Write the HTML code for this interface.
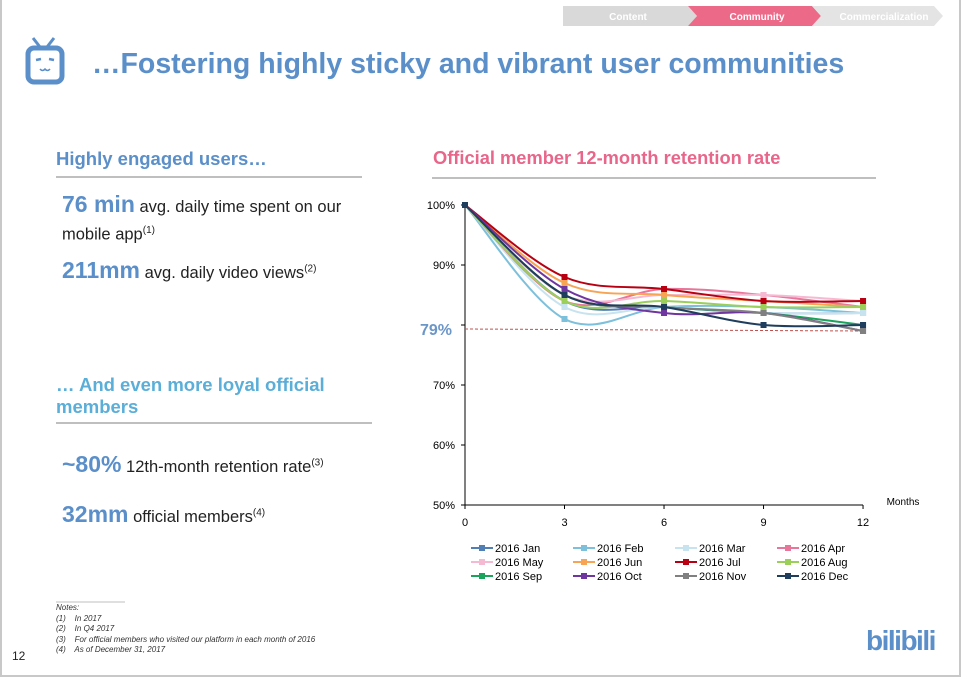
<!DOCTYPE html>
<html><head><meta charset="utf-8">
<style>
body{margin:0;width:961px;height:679px;background:#fff;font-family:"Liberation Sans",sans-serif;position:relative;overflow:hidden}
.frame{position:absolute;left:0;top:0;width:957px;height:675px;border:2px solid #c8c8c8;border-top:none}
.abs{position:absolute;white-space:nowrap}
.blue{color:#5b8fc9}
</style></head><body>
<div class="frame"></div>
<svg class="abs" style="left:0;top:0" width="961" height="679">
<polygon points="563,6 688,6 697,16 688,26 563,26" fill="#d9d9d9"/>
<polygon points="688,6 812,6 821,16 812,26 688,26 697,16" fill="#ec6a88"/>
<polygon points="812,6 934,6 943,16 934,26 812,26 821,16" fill="#e4e4e4"/>
<text x="628" y="20" font-size="10" fill="#fff" text-anchor="middle" font-weight="bold">Content</text>
<text x="757" y="20" font-size="10" fill="#fff" text-anchor="middle" font-weight="bold">Community</text>
<text x="884" y="20" font-size="10" fill="#fff" text-anchor="middle" font-weight="bold">Commercialization</text>
<line x1="33" y1="38" x2="40" y2="47" stroke="#5b8fc9" stroke-width="3"/>
<line x1="47" y1="47" x2="54" y2="38" stroke="#5b8fc9" stroke-width="3"/>
<rect x="28" y="48" width="34" height="34" rx="6" fill="none" stroke="#5b8fc9" stroke-width="5"/>
<line x1="36" y1="60" x2="41" y2="59" stroke="#5b8fc9" stroke-width="2.5"/>
<line x1="49" y1="59" x2="54" y2="60" stroke="#5b8fc9" stroke-width="2.5"/>
<path d="M40,69 q2.5,3 5,0 q2.5,3 5,0" fill="none" stroke="#5b8fc9" stroke-width="1.5"/>
<line x1="56" y1="177" x2="362" y2="177" stroke="#bfbfbf" stroke-width="2"/>
<line x1="56" y1="423" x2="372" y2="423" stroke="#bfbfbf" stroke-width="2"/>
<line x1="432" y1="178" x2="876" y2="178" stroke="#bfbfbf" stroke-width="2"/>
<line x1="56" y1="602" x2="125" y2="602" stroke="#bfbfbf" stroke-width="1"/>
<g id="chart"></g>
</svg>
<div class="abs blue" style="left:92px;top:48px;font-size:28.5px;font-weight:bold">…Fostering highly sticky and vibrant user communities</div>
<div class="abs blue" style="left:56px;top:148px;font-size:18.5px;font-weight:bold">Highly engaged users…</div>
<div class="abs" style="left:62px;top:193px;font-size:16.5px;color:#222;line-height:23px"><b class="blue" style="font-size:23px">76 min</b> avg. daily time spent on our<br>mobile app<sup style="font-size:10px">(1)</sup></div>
<div class="abs" style="left:62px;top:257px;font-size:16.5px;color:#222"><b class="blue" style="font-size:23px">211mm</b> avg. daily video views<sup style="font-size:10px">(2)</sup></div>
<div class="abs" style="left:56px;top:374px;font-size:18.5px;font-weight:bold;color:#5aaed8;line-height:22px">… And even more loyal official<br>members</div>
<div class="abs" style="left:62px;top:451px;font-size:16.5px;color:#222"><b class="blue" style="font-size:23px">~80%</b> 12th-month retention rate<sup style="font-size:10px">(3)</sup></div>
<div class="abs" style="left:62px;top:501px;font-size:16.5px;color:#222"><b class="blue" style="font-size:23px">32mm</b> official members<sup style="font-size:10px">(4)</sup></div>
<div class="abs" style="left:433px;top:147px;font-size:18.3px;font-weight:bold;color:#e8668a">Official member 12-month retention rate</div>
<div class="abs" style="left:56px;top:603px;font-size:8px;font-style:italic;color:#333;line-height:10.5px">Notes:<br>(1)&nbsp;&nbsp;&nbsp; In 2017<br>(2)&nbsp;&nbsp;&nbsp; In Q4 2017<br>(3)&nbsp;&nbsp;&nbsp; For official members who visited our platform in each month of 2016<br>(4)&nbsp;&nbsp;&nbsp; As of December 31, 2017</div>
<div class="abs" style="left:12px;top:649px;font-size:12px;color:#222">12</div>
<div class="abs blue" style="left:866px;top:625px;font-size:28px;font-weight:bold;letter-spacing:-1.5px">bilibili</div>
<script>
var g=document.getElementById('chart'),s='';
function X(m){return 465+m*33.17}function Y(p){return 205+(100-p)*6}
s+='<line x1="465" y1="205" x2="465" y2="505" stroke="#000"/><line x1="465" y1="505" x2="863" y2="505" stroke="#000"/>';
[100,90,80,70,60,50].forEach(function(p){s+='<line x1="461" y1="'+Y(p)+'" x2="465" y2="'+Y(p)+'" stroke="#000"/>';if(p!=80)s+='<text x="455" y="'+(Y(p)+4)+'" font-size="11" text-anchor="end">'+p+'%</text>';});
[0,3,6,9,12].forEach(function(m){s+='<line x1="'+X(m)+'" y1="505" x2="'+X(m)+'" y2="509" stroke="#000"/><text x="'+X(m)+'" y="526" font-size="11" text-anchor="middle">'+m+'</text>';});
s+='<text x="903" y="505" font-size="10" text-anchor="middle">Months</text>';
s+='<text x="452" y="335" font-size="16" font-weight="bold" fill="#6b96c8" text-anchor="end">79%</text>';
s+='<line x1="465" y1="329" x2="863" y2="331" stroke="#c0504d" stroke-dasharray="3,2"/>';
var D=[["2016 Jan","#4f7fb5",[100,84,83,82,82]],["2016 Feb","#7cc0dc",[100,81,83,83,82]],["2016 Mar","#c6e3ef",[100,83,83,82,82]],["2016 Apr","#e8769a",[100,84,86,85,83]],
["2016 May","#f5bad2",[100,85,85,85,84]],["2016 Jun","#f7a454",[100,87,85,84,83]],["2016 Jul","#b80012",[100,88,86,84,84]],["2016 Aug","#9bcf5a",[100,84,84,83,83]],
["2016 Sep","#1aa35a",[100,85,83,82,80]],["2016 Oct","#7036a0",[100,86,82,82,79]],["2016 Nov","#808080",[100,85,83,82,79]],["2016 Dec","#1f3d5c",[100,85,83,80,80]]];
D.forEach(function(d,i){var v=d[2],P=v.map(function(p,k){return[X(k*3),Y(p)]});
var path='M'+P[0];for(var k=0;k<4;k++){var p0=P[k-1]||P[k],p1=P[k],p2=P[k+1],p3=P[k+2]||p2;
path+=' C'+(p1[0]+(p2[0]-p0[0])/6)+','+(p1[1]+(p2[1]-p0[1])/6)+' '+(p2[0]-(p3[0]-p1[0])/6)+','+(p2[1]-(p3[1]-p1[1])/6)+' '+p2;}
s+='<path d="'+path+'" fill="none" stroke="'+d[1]+'" stroke-width="2"/>';
P.forEach(function(p){s+='<rect x="'+(p[0]-3)+'" y="'+(p[1]-3)+'" width="6" height="6" fill="'+d[1]+'"/>';});
var lx=471+(i%4)*102,ly=548+Math.floor(i/4)*14;
s+='<line x1="'+lx+'" y1="'+ly+'" x2="'+(lx+22)+'" y2="'+ly+'" stroke="'+d[1]+'" stroke-width="2"/><rect x="'+(lx+8)+'" y="'+(ly-3)+'" width="6" height="6" fill="'+d[1]+'"/>';
s+='<text x="'+(lx+24)+'" y="'+(ly+4)+'" font-size="11">'+d[0]+'</text>';});
g.innerHTML=s;
</script>
</body></html>
